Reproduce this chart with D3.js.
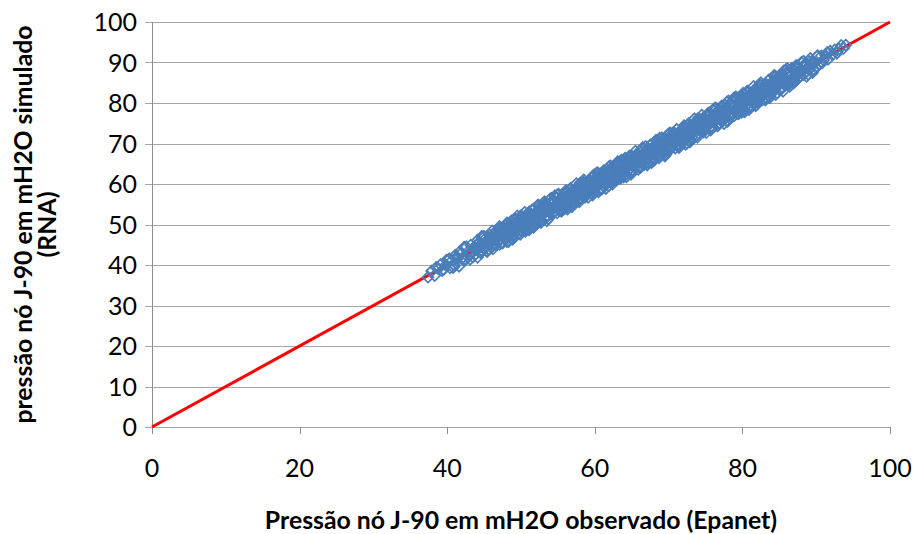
<!DOCTYPE html>
<html>
<head>
<meta charset="utf-8">
<script src="https://cdn.jsdelivr.net/npm/d3@7"></script>
<style>
  html, body { margin: 0; padding: 0; background: #fff; }
  svg { display: block; }
  text { font-family: Lato, "Liberation Sans", sans-serif; fill: #000; }
</style>
</head>
<body>
<svg id="chart" width="916" height="534"></svg>
<script>
// Pressão observada (Epanet) no nó J-90, mH2O
const observed = [
  37.4, 37.9, 38.3, 38.8, 39.1, 39.5, 39.8, 40.2, 40.4, 40.7,
  40.9, 41.1, 41.4, 41.6, 41.8, 42.1, 42.3, 42.5, 42.8, 43.0,
  43.2, 43.4, 43.5, 43.7, 43.9, 44.1, 44.3, 44.4, 44.6, 44.8,
  45.0, 45.1, 45.3, 45.5, 45.6, 45.8, 45.9, 46.1, 46.2, 46.4,
  46.5, 46.7, 46.8, 47.0, 47.1, 47.3, 47.4, 47.6, 47.7, 47.9,
  48.0, 48.1, 48.3, 48.4, 48.6, 48.7, 48.9, 49.0, 49.2, 49.3,
  49.5, 49.6, 49.8, 49.9, 50.0, 50.2, 50.3, 50.5, 50.6, 50.8,
  50.9, 51.0, 51.2, 51.3, 51.4, 51.6, 51.7, 51.8, 52.0, 52.1,
  52.2, 52.3, 52.5, 52.6, 52.7, 52.9, 53.0, 53.1, 53.3, 53.4,
  53.5, 53.7, 53.8, 53.9, 54.1, 54.2, 54.3, 54.5, 54.6, 54.7,
  54.8, 55.0, 55.1, 55.2, 55.4, 55.5, 55.6, 55.8, 55.9, 56.0,
  56.2, 56.3, 56.4, 56.6, 56.7, 56.8, 57.0, 57.1, 57.2, 57.4,
  57.5, 57.6, 57.8, 57.9, 58.0, 58.2, 58.3, 58.4, 58.6, 58.7,
  58.8, 59.0, 59.1, 59.2, 59.4, 59.5, 59.6, 59.8, 59.9, 60.0,
  60.2, 60.3, 60.4, 60.6, 60.7, 60.8, 61.0, 61.1, 61.2, 61.4,
  61.5, 61.6, 61.8, 61.9, 62.0, 62.2, 62.3, 62.4, 62.6, 62.7,
  62.8, 63.0, 63.1, 63.2, 63.4, 63.5, 63.6, 63.8, 63.9, 64.0,
  64.2, 64.3, 64.4, 64.6, 64.7, 64.8, 65.0, 65.1, 65.2, 65.4,
  65.5, 65.6, 65.8, 65.9, 66.0, 66.2, 66.3, 66.4, 66.6, 66.7,
  66.8, 67.0, 67.1, 67.2, 67.4, 67.5, 67.6, 67.8, 67.9, 68.0,
  68.2, 68.3, 68.4, 68.6, 68.7, 68.8, 69.0, 69.1, 69.2, 69.4,
  69.5, 69.6, 69.8, 69.9, 70.0, 70.2, 70.3, 70.4, 70.6, 70.7,
  70.8, 71.0, 71.1, 71.2, 71.4, 71.5, 71.6, 71.8, 71.9, 72.0,
  72.2, 72.3, 72.4, 72.6, 72.7, 72.8, 73.0, 73.1, 73.2, 73.4,
  73.5, 73.6, 73.8, 73.9, 74.0, 74.2, 74.3, 74.4, 74.6, 74.7,
  74.8, 75.0, 75.1, 75.2, 75.4, 75.5, 75.6, 75.8, 75.9, 76.0,
  76.2, 76.3, 76.4, 76.6, 76.7, 76.8, 77.0, 77.1, 77.2, 77.4,
  77.5, 77.6, 77.8, 77.9, 78.0, 78.2, 78.3, 78.4, 78.6, 78.7,
  78.8, 79.0, 79.1, 79.2, 79.4, 79.5, 79.6, 79.8, 79.9, 80.0,
  80.2, 80.3, 80.4, 80.6, 80.7, 80.8, 81.0, 81.1, 81.2, 81.4,
  81.5, 81.6, 81.8, 81.9, 82.0, 82.2, 82.3, 82.4, 82.6, 82.7,
  82.8, 83.0, 83.1, 83.2, 83.4, 83.5, 83.6, 83.8, 83.9, 84.0,
  84.2, 84.4, 84.6, 84.8, 85.0, 85.2, 85.4, 85.6, 85.8, 86.0,
  86.2, 86.4, 86.6, 86.8, 87.0, 87.2, 87.4, 87.6, 87.8, 88.0,
  88.3, 88.6, 88.9, 89.2, 89.5, 89.8, 90.1, 90.4, 90.7, 91.0,
  91.3, 91.6, 91.9, 92.2, 92.5, 92.8, 93.1, 93.4, 93.7, 94.0,
  44.0, 44.2, 44.5, 44.7, 44.9, 45.2, 45.4, 45.7, 46.0, 46.3,
  46.6, 46.9, 47.2, 47.5, 47.8, 48.2, 48.5, 48.8, 49.1, 49.4,
  49.7, 50.1, 50.4, 50.7, 51.1, 51.5, 51.9, 52.4, 52.8, 53.2,
  53.6, 54.0, 54.4, 54.9, 55.3, 55.7, 56.1, 56.5, 56.9, 57.3,
  57.7, 58.1, 58.5, 58.9, 59.3, 59.7, 60.1, 60.5, 60.9, 61.3,
  61.7, 62.1, 62.5, 62.9, 63.3, 63.7, 64.1, 64.5, 64.9, 65.3,
  65.7, 66.1, 66.5, 66.9, 67.3, 67.7, 68.1, 68.5, 68.9, 69.3,
  69.7, 70.1, 70.5, 70.9, 71.3, 71.7, 72.1, 72.5, 72.9, 73.3,
  73.7, 74.1, 74.5, 74.9, 75.3, 75.7, 76.1, 76.5, 76.9, 77.3,
  77.7, 78.1, 78.5, 78.9, 79.3, 79.7, 80.1, 80.5, 80.9, 81.3,
  81.7, 82.1, 82.5, 82.9, 83.3, 83.7, 84.1, 84.5, 84.9, 85.3,
  85.7, 86.1, 86.5, 86.9, 87.3, 87.7, 88.1, 88.5, 88.9, 89.4,
  45.5, 46.0, 46.5, 47.0, 47.5, 48.0, 48.5, 49.0, 49.5, 50.0,
  50.5, 51.0, 51.5, 52.0, 52.5, 53.0, 53.5, 54.0, 54.5, 55.0,
  55.5, 56.0, 56.5, 57.0, 57.5, 58.0, 58.5, 59.0, 59.5, 60.0,
  60.5, 61.0, 61.5, 62.0, 62.5, 63.0, 63.5, 64.0, 64.5, 65.0,
  65.5, 66.0, 66.5, 67.0, 67.5, 68.0, 68.5, 69.0, 69.5, 70.0,
  70.5, 71.0, 71.5, 72.0, 72.5, 73.0, 73.5, 74.0, 74.5, 75.0,
  75.5, 76.0, 76.5, 77.0, 77.5, 78.0, 78.5, 79.0, 79.5, 80.0,
  80.5, 81.0, 81.5, 82.0, 82.5, 83.0, 83.5, 84.0, 84.5, 85.0,
  85.5, 86.0, 86.5, 87.0, 87.5, 88.0, 88.5, 89.0, 89.5, 90.0,
  47.1, 47.5, 47.9, 48.3, 48.7, 49.1, 49.5, 49.9, 50.3, 50.7,
  51.1, 51.5, 51.9, 52.3, 52.7, 53.1, 53.5, 53.9, 54.3, 54.7,
  55.1, 55.5, 55.9, 56.3, 56.7, 57.1, 57.5, 57.9, 58.3, 58.7,
  59.1, 59.5, 59.9, 60.3, 60.7, 61.1, 61.5, 61.9, 62.3, 62.7,
  63.1, 63.5, 63.9, 64.3, 64.7, 65.1, 65.5, 65.9, 66.3, 66.7,
  67.1, 67.5, 67.9, 68.3, 68.7, 69.1, 69.5, 69.9, 70.3, 70.7,
  71.1, 71.5, 71.9, 72.3, 72.7, 73.1, 73.5, 73.9, 74.3, 74.7,
  75.1, 75.5, 75.9, 76.3, 76.7, 77.1, 77.5, 77.9, 78.3, 78.7,
  79.1, 79.5, 79.9, 80.3, 80.7, 81.1, 81.5, 81.9, 82.3, 82.7,
  83.1, 83.5, 83.9, 84.3, 84.7, 85.1, 85.5, 85.9, 86.3, 86.7,
  47.3, 47.7, 48.1, 48.5, 48.9, 49.3, 49.7, 50.1, 50.5, 50.9,
  51.3, 51.7, 52.1, 52.5, 52.9, 53.3, 53.7, 54.1, 54.5, 54.9,
  55.3, 55.7, 56.1, 56.5, 56.9, 57.3, 57.7, 58.1, 58.5, 58.9,
  59.3, 59.7, 60.1, 60.5, 60.9, 61.3, 61.7, 62.1, 62.5, 62.9,
  63.3, 63.7, 64.1, 64.5, 64.9, 65.3, 65.7, 66.1, 66.5, 66.9,
  67.3, 67.7, 68.1, 68.5, 68.9, 69.3, 69.7, 70.1, 70.5, 70.9,
  71.3, 71.7, 72.1, 72.5, 72.9, 73.3, 73.7, 74.1, 74.5, 74.9,
  75.3, 75.7, 76.1, 76.5, 76.9, 77.3, 77.7, 78.1, 78.5, 78.9,
  79.3, 79.7, 80.1, 80.5, 80.9, 81.3, 81.7, 82.1, 82.5, 82.9,
  83.3, 83.7, 84.1, 84.5, 84.9, 85.3, 85.7, 86.1, 86.5, 86.9,
  40.3, 40.8, 41.3, 41.7, 42.2, 42.6, 43.1, 43.6, 44.1, 44.6,
  45.0, 45.4, 45.8, 46.2, 46.6, 47.0, 38.5, 39.3, 39.9, 41.0,
  87.1, 87.5, 87.9, 88.3, 88.7, 89.1, 89.6, 90.2, 90.8, 91.5,
  49.2, 51.8, 54.6, 57.2, 59.8, 62.4, 65.0, 67.6, 70.2, 72.8,
  75.4, 78.0, 80.6, 83.2, 85.4, 50.6, 53.2, 55.8, 58.4, 61.0,
  63.6, 66.2, 68.8, 71.4, 74.0, 76.6, 79.2, 81.8, 84.4, 86.4
];

// Pressão simulada pela rede neural (RNA) no mesmo instante, mH2O
const simulated = [
  37.0, 38.5, 37.4, 39.1, 40.1, 38.9, 40.0, 41.4, 39.3, 41.2,
  40.1, 42.4, 41.6, 39.7, 42.7, 41.8, 44.4, 41.3, 43.3, 42.4,
  44.9, 43.0, 42.0, 44.4, 43.9, 41.9, 45.4, 44.8, 43.7, 46.7,
  45.3, 44.0, 46.8, 45.3, 43.9, 46.6, 45.4, 48.4, 44.8, 47.4,
  45.2, 47.3, 46.7, 48.8, 45.1, 47.4, 48.8, 46.9, 48.6, 47.5,
  48.9, 45.8, 48.7, 47.5, 49.8, 50.3, 47.3, 49.0, 48.9, 51.3,
  49.0, 50.6, 48.0, 50.2, 52.2, 49.2, 50.9, 50.3, 52.1, 49.5,
  50.1, 52.3, 51.4, 49.4, 52.3, 51.3, 53.8, 50.6, 52.5, 51.5,
  52.5, 51.2, 54.0, 52.4, 51.0, 53.7, 52.5, 55.4, 51.9, 54.4,
  54.4, 51.4, 54.2, 53.0, 55.3, 55.8, 52.7, 54.5, 54.3, 56.7,
  56.5, 54.6, 53.6, 55.9, 55.4, 53.3, 56.7, 56.2, 55.0, 57.9,
  54.9, 56.9, 56.3, 58.4, 54.7, 56.9, 58.4, 56.4, 58.1, 57.0,
  57.0, 58.6, 56.0, 58.2, 60.2, 57.2, 58.9, 58.2, 60.1, 57.4,
  57.4, 60.0, 59.4, 58.1, 60.9, 59.3, 57.9, 60.6, 59.4, 62.3,
  60.7, 59.7, 59.6, 61.9, 60.9, 58.9, 61.9, 60.8, 63.3, 60.2,
  61.2, 63.6, 62.7, 59.6, 62.4, 61.3, 63.5, 64.0, 61.0, 62.7,
  63.2, 62.1, 65.0, 64.9, 63.0, 62.0, 64.3, 63.8, 61.7, 65.1,
  65.1, 63.9, 63.1, 65.2, 64.6, 66.6, 63.0, 65.2, 66.6, 64.7,
  67.0, 64.3, 65.3, 66.9, 64.2, 66.5, 68.5, 65.4, 67.2, 66.5,
  66.0, 68.3, 67.3, 65.3, 68.3, 67.2, 69.7, 66.6, 68.4, 67.4,
  68.5, 67.2, 69.9, 68.4, 67.0, 69.6, 68.5, 71.4, 67.8, 70.4,
  70.4, 67.3, 70.2, 69.0, 71.2, 71.8, 68.7, 70.4, 70.3, 72.7,
  72.5, 70.6, 69.6, 71.9, 71.4, 69.3, 72.7, 72.2, 71.0, 73.9,
  70.9, 72.9, 72.3, 74.4, 70.7, 72.9, 74.4, 72.4, 74.1, 73.0,
  73.0, 74.6, 72.0, 74.2, 76.2, 73.2, 74.9, 74.2, 76.1, 73.4,
  73.4, 76.0, 75.4, 74.1, 76.9, 75.3, 73.9, 76.6, 75.4, 78.3,
  76.7, 75.7, 75.6, 77.9, 76.9, 74.9, 77.9, 76.8, 79.3, 76.2,
  77.2, 79.6, 78.7, 75.6, 78.4, 77.3, 79.5, 80.0, 77.0, 78.7,
  79.2, 78.1, 81.0, 80.9, 79.0, 78.0, 80.3, 79.8, 77.7, 81.1,
  81.1, 79.9, 79.1, 81.2, 80.6, 82.6, 79.0, 81.2, 82.6, 80.7,
  83.0, 80.3, 81.3, 82.9, 80.2, 82.5, 84.5, 81.4, 83.2, 82.5,
  82.0, 84.3, 83.3, 81.3, 84.3, 83.2, 85.7, 82.6, 84.4, 83.4,
  84.5, 83.3, 86.1, 84.6, 83.3, 86.0, 84.9, 87.9, 84.4, 87.0,
  87.1, 84.1, 87.0, 85.9, 88.2, 88.8, 85.8, 87.6, 87.5, 90.0,
  87.0, 89.2, 88.8, 91.0, 87.5, 89.9, 91.5, 89.7, 91.6, 90.6,
  91.7, 90.8, 92.8, 91.9, 93.1, 92.3, 93.3, 94.2, 93.5, 94.3,
  45.1, 44.0, 43.1, 47.1, 44.2, 45.7, 43.3, 46.5, 46.1, 45.3,
  45.0, 47.6, 49.1, 47.1, 48.0, 47.0, 49.8, 46.4, 49.7, 50.4,
  49.7, 51.7, 49.5, 49.2, 53.1, 51.9, 51.6, 53.6, 51.0, 53.9,
  54.7, 53.8, 53.0, 57.3, 54.6, 56.2, 54.0, 57.3, 57.0, 56.3,
  56.1, 58.8, 60.4, 58.5, 59.5, 58.5, 61.4, 58.1, 61.5, 62.3,
  61.7, 63.7, 61.6, 61.4, 65.3, 64.1, 63.8, 65.7, 63.1, 66.0,
  66.8, 65.9, 65.1, 69.3, 66.6, 68.2, 66.0, 69.3, 69.0, 68.3,
  68.1, 70.8, 72.4, 70.5, 71.5, 70.5, 73.4, 70.1, 73.5, 74.3,
  73.7, 75.7, 73.6, 73.4, 77.3, 76.1, 75.8, 77.7, 75.1, 78.0,
  78.8, 77.9, 77.1, 81.3, 78.6, 80.2, 78.0, 81.3, 81.0, 80.3,
  80.1, 82.8, 84.4, 82.5, 83.5, 82.5, 85.4, 82.1, 85.5, 86.3,
  85.7, 87.7, 85.6, 85.4, 89.3, 88.1, 87.8, 89.7, 87.1, 90.1,
  46.1, 45.5, 46.7, 46.0, 48.6, 47.9, 49.3, 48.3, 49.8, 48.7,
  50.3, 51.9, 50.7, 52.4, 51.3, 54.4, 53.6, 53.4, 55.5, 54.7,
  56.1, 55.5, 56.7, 56.0, 58.6, 57.9, 59.3, 58.3, 59.8, 58.7,
  60.3, 61.9, 60.7, 62.4, 61.3, 64.4, 63.6, 63.4, 65.5, 64.7,
  66.1, 65.5, 66.7, 66.0, 68.6, 67.9, 69.3, 68.3, 69.8, 68.7,
  70.3, 71.9, 70.7, 72.4, 71.3, 74.4, 73.6, 73.4, 75.5, 74.7,
  76.1, 75.5, 76.7, 76.0, 78.6, 77.9, 79.3, 78.3, 79.8, 78.7,
  80.3, 81.9, 80.7, 82.4, 81.3, 84.4, 83.6, 83.4, 85.5, 84.7,
  86.1, 85.5, 86.7, 86.0, 88.6, 87.9, 89.3, 88.3, 89.8, 88.7,
  49.5, 45.4, 49.7, 45.8, 50.9, 47.5, 52.1, 47.6, 51.8, 48.8,
  48.7, 53.5, 50.2, 54.8, 50.5, 54.7, 50.9, 56.2, 52.8, 56.6,
  57.5, 53.4, 57.7, 53.8, 58.9, 55.5, 60.1, 55.6, 59.8, 56.8,
  56.7, 61.5, 58.2, 62.8, 58.5, 62.7, 58.9, 64.2, 60.8, 64.6,
  65.5, 61.4, 65.7, 61.8, 66.9, 63.5, 68.1, 63.6, 67.8, 64.8,
  64.7, 69.5, 66.2, 70.8, 66.5, 70.7, 66.9, 72.2, 68.8, 72.6,
  73.5, 69.4, 73.7, 69.8, 74.9, 71.5, 76.1, 71.6, 75.8, 72.8,
  72.7, 77.5, 74.2, 78.8, 74.5, 78.7, 74.9, 80.2, 76.8, 80.6,
  81.5, 77.4, 81.7, 77.8, 82.9, 79.5, 84.1, 79.6, 83.8, 80.8,
  80.7, 85.5, 82.2, 86.8, 82.5, 86.7, 82.9, 88.2, 84.8, 88.6,
  45.4, 49.1, 50.4, 47.3, 46.4, 50.2, 51.4, 48.5, 53.0, 50.1,
  52.5, 49.3, 51.5, 54.6, 54.4, 51.5, 54.2, 56.5, 53.2, 52.9,
  53.4, 57.1, 58.4, 55.3, 54.4, 58.2, 59.4, 56.5, 61.0, 58.1,
  60.5, 57.3, 59.5, 62.6, 62.4, 59.5, 62.2, 64.5, 61.2, 60.9,
  61.4, 65.1, 66.4, 63.3, 62.4, 66.2, 67.4, 64.5, 69.0, 66.1,
  68.5, 65.3, 67.5, 70.6, 70.4, 67.5, 70.2, 72.5, 69.2, 68.9,
  69.4, 73.1, 74.4, 71.3, 70.4, 74.2, 75.4, 72.5, 77.0, 74.1,
  76.5, 73.3, 75.5, 78.6, 78.4, 75.5, 78.2, 80.5, 77.2, 76.9,
  77.4, 81.1, 82.4, 79.3, 78.4, 82.2, 83.4, 80.5, 85.0, 82.1,
  84.5, 81.3, 83.5, 86.6, 86.4, 83.5, 86.2, 88.5, 85.2, 84.9,
  41.5, 39.4, 42.0, 43.3, 41.2, 44.5, 41.4, 43.9, 46.1, 43.1,
  47.1, 43.5, 47.3, 44.0, 48.4, 45.9, 39.4, 38.6, 41.2, 39.8,
  85.3, 89.1, 86.7, 90.3, 86.6, 90.2, 88.2, 91.7, 89.9, 92.5,
  51.2, 49.6, 57.1, 55.3, 62.1, 60.0, 66.9, 65.5, 72.6, 70.5,
  77.5, 75.5, 82.8, 81.2, 87.2, 48.3, 55.6, 54.0, 60.4, 58.8,
  65.9, 64.1, 71.3, 69.0, 75.9, 74.4, 81.4, 79.3, 86.5, 84.7
];

// Reta de referência y = x
const identityLine = [[0, 0], [100, 100]];

const xTicks = [0, 20, 40, 60, 80, 100];
const yTicks = [0, 10, 20, 30, 40, 50, 60, 70, 80, 90, 100];

const xTitle = "Pressão nó J-90 em mH2O observado (Epanet)";
const yTitleLines = ["pressão nó J-90 em mH2O simulado", "(RNA)"];

const svg = d3.select("#chart");
const plot = { left: 152, right: 890, top: 22, bottom: 427 };

const x = d3.scaleLinear().domain([0, 100]).range([plot.left, plot.right]);
const y = d3.scaleLinear().domain([0, 100]).range([plot.bottom, plot.top]);

const gridColor = "#a6a6a6";
const axisColor = "#8c8c8c";

// Linhas de grade horizontais
svg.append("g")
  .selectAll("line")
  .data(yTicks)
  .join("line")
  .attr("x1", plot.left - 7)
  .attr("x2", plot.right)
  .attr("y1", d => Math.round(y(d)) + 0.5)
  .attr("y2", d => Math.round(y(d)) + 0.5)
  .attr("stroke", gridColor)
  .attr("stroke-width", 1);

// Eixo vertical
svg.append("line")
  .attr("x1", plot.left + 0.5).attr("x2", plot.left + 0.5)
  .attr("y1", plot.top).attr("y2", plot.bottom + 7)
  .attr("stroke", axisColor).attr("stroke-width", 1);

// Marcas do eixo horizontal
svg.append("g")
  .selectAll("line")
  .data(xTicks)
  .join("line")
  .attr("x1", d => Math.round(x(d)) + 0.5)
  .attr("x2", d => Math.round(x(d)) + 0.5)
  .attr("y1", plot.bottom)
  .attr("y2", plot.bottom + 7)
  .attr("stroke", axisColor);

// Rótulos do eixo Y
svg.append("g")
  .selectAll("text")
  .data(yTicks)
  .join("text")
  .attr("x", plot.left - 15)
  .attr("y", d => y(d) + 9)
  .attr("text-anchor", "end")
  .style("font-size", "25px")
  .text(d => d);

// Rótulos do eixo X
svg.append("g")
  .selectAll("text")
  .data(xTicks)
  .join("text")
  .attr("x", d => x(d))
  .attr("y", plot.bottom + 50)
  .attr("text-anchor", "middle")
  .style("font-size", "25px")
  .text(d => d);

// Reta 1:1
svg.append("path")
  .datum(identityLine)
  .attr("d", d3.line().x(d => x(d[0])).y(d => y(d[1])))
  .attr("fill", "none")
  .attr("stroke", "#ff0000")
  .attr("stroke-width", 3);

// Pontos observado × simulado (losangos vazados)
const diamond = "M0,-5.5L5.5,0L0,5.5L-5.5,0Z";
svg.append("g")
  .selectAll("path")
  .data(observed.map((o, i) => [o, simulated[i]]))
  .join("path")
  .attr("d", diamond)
  .attr("transform", d => `translate(${x(d[0])},${y(d[1])})`)
  .attr("fill", "none")
  .attr("stroke", "#4a7ebb")
  .attr("stroke-width", 1.7);

// Título do eixo X
svg.append("text")
  .attr("x", 521)
  .attr("y", 529)
  .attr("text-anchor", "middle")
  .style("font-size", "24.8px")
  .style("font-weight", "bold")
  .text(xTitle);

// Título do eixo Y (duas linhas)
const yTitle = svg.append("text")
  .attr("transform", `translate(0,${(plot.top + plot.bottom) / 2}) rotate(-90)`)
  .attr("text-anchor", "middle")
  .style("font-size", "24.8px")
  .style("font-weight", "bold");
yTitle.selectAll("tspan")
  .data(yTitleLines)
  .join("tspan")
  .attr("x", 0)
  .attr("y", (d, i) => 32 + i * 24)
  .text(d => d);
</script>
</body>
</html>
